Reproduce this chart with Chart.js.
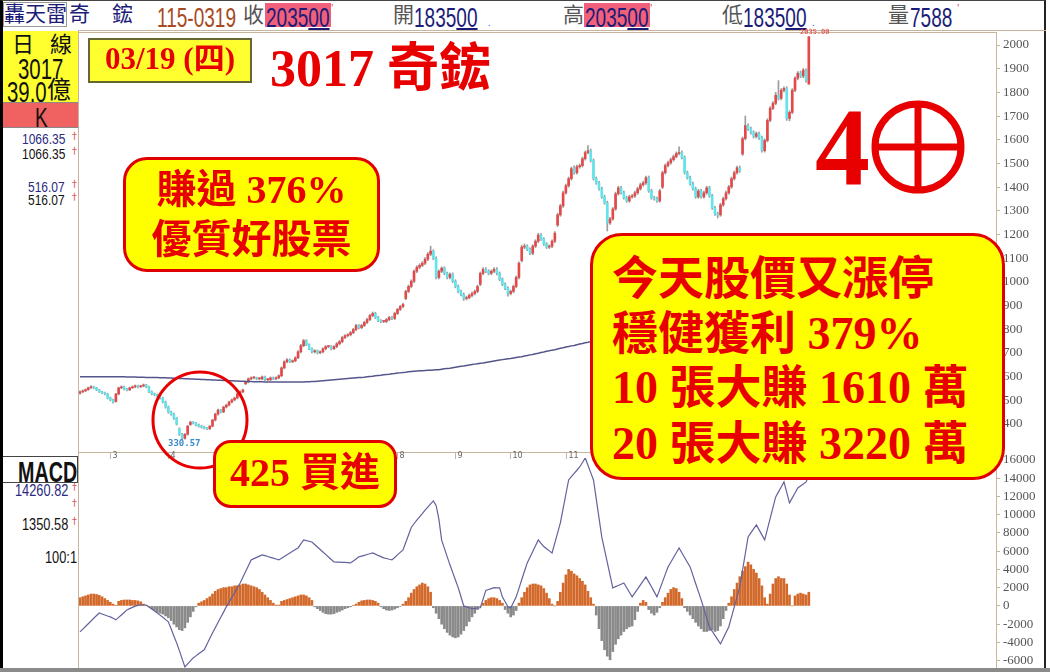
<!DOCTYPE html>
<html>
<head>
<meta charset="utf-8">
<script src="https://cdn.jsdelivr.net/npm/chart.js@4.4.1/dist/chart.umd.min.js"></script>
<style>
body{margin:0;background:#fff;width:1050px;height:672px;position:relative;overflow:hidden;font-family:"Noto Sans CJK TC",sans-serif}
.a{position:absolute;white-space:nowrap;line-height:1}
.n{display:inline-block;font-family:"Liberation Sans";transform:scaleX(.68);transform-origin:left center}
.m{display:inline-block;font-family:"Liberation Sans";transform:scaleX(.8);transform-origin:left center}
.u{text-decoration:underline;text-decoration-thickness:2px;text-underline-offset:1px}
.dg{position:absolute;color:#e03030;font-size:9px;line-height:1}
.box{position:absolute;background:#ffff00;border:3px solid #e00000;box-sizing:border-box}
.big{position:absolute;white-space:nowrap;line-height:1;color:#e80000;font-weight:700;font-family:"Liberation Serif","Noto Sans CJK TC",serif}
canvas{position:absolute}
</style>
</head>
<body>
<!-- cuadro exterior -->
<div style="position:absolute;left:0;top:0;width:1046px;height:668px;border-left:3px solid #000;border-right:2px solid #222;border-top:1px solid #444;box-sizing:border-box"></div>
<div style="position:absolute;left:0;top:668px;width:1050px;height:4px;background:#8a8a8a"></div>
<div style="position:absolute;left:78px;top:30px;width:968px;height:1px;background:#c8b49c"></div>
<div style="position:absolute;left:78px;top:30px;width:1px;height:638px;background:#c8b49c"></div>

<!-- cabecera -->
<div style="position:absolute;left:3px;top:2px;width:64px;height:25px;border:1px solid #999;box-sizing:border-box"></div>
<div class="a" style="left:4px;top:2px;font-size:21px;color:#1c1c78">轟天雷</div>
<div class="a" style="left:69px;top:2px;font-size:21px;color:#1c1c78">奇</div>
<div class="a" style="left:112px;top:2px;font-size:21px;color:#1c1c78">鋐</div>
<div class="a" style="left:157px;top:1px;font-size:28px;color:#a8491f"><span class="n">115-0319</span></div>
<div class="a" style="left:243px;top:3px;font-size:21px;color:#555">收</div>
<div style="position:absolute;left:265px;top:3px;width:66px;height:24px;background:#f0607a"></div>
<div class="a" style="left:266px;top:1px;font-size:28px;color:#1c1c78"><span class="n">2035<span class="u">00</span></span></div>
<div class="dg" style="left:331px;top:3px">'</div>
<div class="a" style="left:393px;top:3px;font-size:21px;color:#555">開</div>
<div class="a" style="left:414px;top:1px;font-size:28px;color:#1c1c78"><span class="n">1835<span class="u">00</span></span></div>
<div class="dg" style="left:488px;top:18px;color:#3070e0">.</div>
<div class="a" style="left:563px;top:3px;font-size:21px;color:#555">高</div>
<div style="position:absolute;left:584px;top:3px;width:66px;height:24px;background:#f0607a"></div>
<div class="a" style="left:585px;top:1px;font-size:28px;color:#1c1c78"><span class="n">2035<span class="u">00</span></span></div>
<div class="dg" style="left:650px;top:3px">'</div>
<div class="a" style="left:722px;top:3px;font-size:21px;color:#555">低</div>
<div class="a" style="left:743px;top:1px;font-size:28px;color:#1c1c78"><span class="n">1835<span class="u">00</span></span></div>
<div class="dg" style="left:812px;top:18px;color:#3070e0">.</div>
<div class="a" style="left:888px;top:3px;font-size:21px;color:#555">量</div>
<div class="a" style="left:910px;top:1px;font-size:28px;color:#1c1c78"><span class="n">7588</span></div>
<div class="dg" style="left:957px;top:3px">'</div>

<!-- panel izquierdo -->
<div style="position:absolute;left:3px;top:31px;width:75px;height:71px;background:#ffff30"></div>
<div class="a" style="left:12px;top:31px;font-size:22px;color:#111">日</div>
<div class="a" style="left:50px;top:31px;font-size:22px;color:#111">線</div>
<div class="a" style="left:18px;top:51px;font-size:30px;color:#111"><span class="n">3017</span></div>
<div class="a" style="left:7px;top:74px;font-size:30px;color:#111"><span class="n">39.0</span></div>
<div class="a" style="left:47px;top:76px;font-size:24px;color:#111">億</div>
<div style="position:absolute;left:3px;top:102px;width:75px;height:26px;background:#f06262;border-top:1px solid #888;border-bottom:1px solid #888;box-sizing:border-box"></div>
<div class="a" style="left:35px;top:101px;font-size:28px;color:#111"><span class="n">K</span></div>
<div class="a" style="left:22px;top:130px;font-size:15px;color:#2a2a80"><span class="m">1066.35</span></div>
<div class="dg" style="left:70px;top:131px">†</div>
<div class="a" style="left:22px;top:145px;font-size:15px;color:#111"><span class="m">1066.35</span></div>
<div class="dg" style="left:70px;top:146px">†</div>
<div class="a" style="left:28px;top:178px;font-size:15px;color:#2a2a80"><span class="m">516.07</span></div>
<div class="dg" style="left:70px;top:179px">†</div>
<div class="a" style="left:28px;top:191px;font-size:15px;color:#111"><span class="m">516.07</span></div>
<div class="dg" style="left:70px;top:192px">†</div>

<div style="position:absolute;left:3px;top:456px;width:75px;height:27px;border-top:1px solid #444;border-bottom:1px solid #444;border-right:1px solid #444;box-sizing:border-box"></div>
<div class="a" style="left:18px;top:455px;font-size:29px;color:#111;font-weight:700"><span class="n">MACD</span></div>
<div class="a" style="left:15px;top:481px;font-size:16px;color:#2a2a80"><span class="m">14260.82</span></div>
<div class="dg" style="left:70px;top:482px">†</div>
<div class="dg" style="left:70px;top:498px">†</div>
<div class="a" style="left:22px;top:515px;font-size:16px;color:#111"><span class="m">1350.58</span></div>
<div class="dg" style="left:70px;top:516px">†</div>
<div class="a" style="left:45px;top:548px;font-size:16px;color:#111"><span class="m">100:1</span></div>

<canvas id="precio" width="970" height="428" style="left:78px;top:32px"></canvas>
<canvas id="macd" width="970" height="218" style="left:78px;top:450px"></canvas>

<div class="a" style="left:800px;top:29px;font-size:7px;color:#e04040;font-family:'DejaVu Sans Mono'">2035.00</div>
<div class="a" style="left:168px;top:439px;font-size:9px;color:#3a8ac8;font-weight:700;font-family:'DejaVu Sans Mono'">330.57</div>

<!-- rótulos -->
<div style="position:absolute;left:88px;top:38px;width:164px;height:45px;background:#ffff30;border:2px solid #666633;box-sizing:border-box"></div>
<div class="big" style="left:88px;width:164px;text-align:center;top:43px;font-size:31px">03/19 (四)</div>
<div class="big" style="left:270px;top:43px;font-size:52px">3017 奇鋐</div>
<div class="big" style="left:815px;top:92px;font-size:110px">4</div>
<svg style="position:absolute;left:868px;top:99px" width="100" height="96">
  <circle cx="50" cy="48" r="43" stroke="#e80000" stroke-width="7" fill="none"/>
  <line x1="50" y1="5" x2="50" y2="91" stroke="#e80000" stroke-width="7"/>
  <line x1="7" y1="48" x2="93" y2="48" stroke="#e80000" stroke-width="7"/>
</svg>

<div class="box" style="left:123px;top:157px;width:257px;height:115px;border-radius:24px"></div>
<div class="big" style="left:123px;width:257px;text-align:center;top:170px;font-size:40px">賺過 376%</div>
<div class="big" style="left:123px;width:257px;text-align:center;top:220px;font-size:40px">優質好股票</div>

<svg style="position:absolute;left:150px;top:370px" width="104" height="102">
  <ellipse cx="50" cy="50" rx="47" ry="48" stroke="#e80000" stroke-width="3" fill="none"/>
</svg>

<div class="box" style="left:213px;top:440px;width:184px;height:68px;border-radius:18px"></div>
<div class="big" style="left:213px;width:184px;text-align:center;top:453px;font-size:40px">425 買進</div>

<div class="box" style="left:590px;top:233px;width:415px;height:247px;border-radius:32px"></div>
<div class="big" style="left:612px;top:256px;font-size:46px">今天股價又漲停</div>
<div class="big" style="left:612px;top:311px;font-size:46px">穩健獲利 379%</div>
<div class="big" style="left:612px;top:365px;font-size:46px">10 張大賺 1610 萬</div>
<div class="big" style="left:612px;top:421px;font-size:46px">20 張大賺 3220 萬</div>

<script>
// K線日資料 (開、高、低、收)
const opens = [530,536,540,545,553,557,552,544,536,532,
527,510,502,495,527,553,557,548,544,553,
557,561,557,561,565,557,536,527,523,519,
510,493,472,451,442,425,380,357,340,357,
398,408,404,396,391,387,383,380,391,417,
442,459,451,472,480,493,502,510,527,536,
570,578,591,595,595,591,591,599,587,587,
595,591,595,604,637,663,671,663,667,680,
705,731,752,735,718,705,709,701,705,718,
727,727,718,727,739,748,765,773,777,786,
799,816,807,816,829,841,858,867,850,837,
833,833,841,850,846,867,884,896,930,960,
981,1003,1045,1062,1070,1079,1096,1117,1130,1100,
1019,1045,1058,1036,1019,1032,1003,981,960,947,
930,934,943,951,960,990,1036,1053,1045,1036,
1045,1053,1036,1011,990,973,951,960,981,1019,
1090,1147,1151,1138,1121,1151,1172,1198,1181,1160,
1147,1151,1172,1240,1283,1321,1376,1406,1436,1478,
1461,1486,1491,1520,1546,1554,1512,1436,1418,1393,
1359,1334,1249,1266,1308,1372,1397,1376,1355,1342,
1359,1363,1376,1393,1410,1418,1440,1384,1355,1351,
1342,1400,1461,1491,1503,1516,1529,1542,1546,1525,
1461,1440,1414,1393,1359,1384,1359,1376,1397,1363,
1312,1287,1283,1325,1351,1376,1401,1436,1461,1482,
1540,1605,1660,1647,1631,1614,1626,1609,1554,1597,
1682,1733,1754,1788,1775,1809,1817,1690,1716,1809,
1860,1881,1869,1894,1835];

const highs = [540,544,549,556,562,560,555,547,539,535,
530,514,505,530,556,561,560,551,556,561,
565,564,564,569,568,560,540,531,527,522,
513,497,476,455,446,428,384,361,360,395,
412,411,407,400,395,391,386,394,420,446,
463,462,475,484,497,506,514,531,540,548,
582,595,599,600,598,596,603,602,592,599,
599,599,608,641,667,676,675,671,684,710,
736,757,756,739,722,714,713,709,722,731,
732,731,731,744,753,770,778,782,791,804,
821,820,821,834,846,863,873,872,855,841,
838,846,855,855,872,889,901,911,965,987,
1009,1051,1068,1077,1086,1103,1124,1151,1136,1106,
1051,1064,1064,1042,1038,1038,1009,987,966,953,
940,949,957,966,987,1042,1060,1060,1051,1051,
1060,1060,1042,1017,996,979,966,987,1025,1085,
1155,1160,1157,1144,1157,1178,1205,1204,1187,1166,
1157,1178,1212,1290,1328,1383,1413,1443,1485,1490,
1493,1498,1527,1553,1576,1561,1519,1443,1425,1400,
1366,1341,1273,1314,1379,1404,1404,1383,1362,1366,
1370,1383,1400,1417,1425,1447,1447,1391,1362,1358,
1391,1468,1498,1510,1523,1536,1549,1570,1553,1532,
1468,1447,1421,1400,1391,1391,1383,1404,1404,1370,
1319,1294,1332,1358,1383,1408,1443,1468,1489,1489,
1612,1700,1667,1654,1638,1633,1633,1616,1604,1689,
1740,1761,1800,1850,1816,1824,1824,1723,1816,1867,
1888,1890,1901,1900,2035];

const lows = [526,532,537,542,550,549,541,533,528,523,
506,498,488,492,523,549,544,540,541,550,
553,553,554,557,553,532,523,519,515,505,
489,467,446,437,420,396,352,331,336,353,
394,400,392,387,383,379,376,377,388,413,
438,447,448,468,476,489,498,506,523,532,
566,574,587,590,587,586,587,583,582,583,
587,587,591,600,633,658,659,659,663,676,
700,726,731,714,700,700,696,697,700,713,
722,713,714,722,734,743,760,768,772,781,
794,802,802,811,824,836,853,845,832,828,
828,828,836,841,841,862,879,891,925,955,
975,997,1039,1056,1064,1073,1090,1111,1094,1013,
1013,1039,1030,1013,1013,997,975,954,941,922,
924,928,937,945,954,984,1030,1039,1030,1030,
1039,1030,1005,984,967,940,945,954,975,1013,
1084,1140,1132,1115,1115,1145,1166,1175,1154,1141,
1141,1145,1166,1234,1277,1315,1370,1400,1430,1455,
1455,1480,1485,1514,1540,1506,1430,1412,1387,1353,
1328,1215,1243,1260,1302,1366,1370,1349,1336,1336,
1353,1357,1370,1387,1404,1412,1378,1349,1345,1336,
1336,1394,1455,1485,1497,1510,1523,1536,1519,1455,
1434,1408,1387,1353,1353,1353,1353,1370,1357,1306,
1281,1270,1277,1319,1345,1370,1395,1430,1455,1463,
1534,1599,1640,1624,1607,1607,1602,1548,1548,1591,
1676,1727,1748,1768,1768,1802,1682,1680,1710,1803,
1853,1862,1862,1843,1835];

const closes = [536,540,545,553,557,552,544,536,532,527,
510,502,493,527,553,557,548,544,553,557,
561,557,561,565,557,536,527,523,519,510,
493,472,451,442,425,400,357,340,357,391,
408,404,396,391,387,383,380,391,417,442,
459,451,472,480,493,502,510,527,536,544,
578,591,595,595,591,591,599,587,587,595,
591,595,604,637,663,671,663,667,680,705,
731,752,735,718,705,709,701,705,718,727,
727,718,727,739,748,765,773,777,786,799,
816,807,816,829,841,858,867,850,837,833,
833,841,850,846,867,884,896,905,960,981,
1003,1045,1062,1070,1079,1096,1117,1130,1100,1019,
1045,1058,1036,1019,1032,1003,981,960,947,930,
934,943,951,960,981,1036,1053,1045,1036,1045,
1053,1036,1011,990,973,951,960,981,1019,1079,
1147,1151,1138,1121,1151,1172,1198,1181,1160,1147,
1151,1172,1206,1283,1321,1376,1406,1436,1478,1461,
1486,1491,1520,1546,1554,1512,1436,1418,1393,1359,
1334,1249,1266,1308,1372,1397,1376,1355,1342,1359,
1363,1376,1393,1410,1418,1440,1384,1355,1351,1342,
1384,1461,1491,1503,1516,1529,1542,1546,1525,1461,
1440,1414,1393,1359,1384,1359,1376,1397,1363,1312,
1287,1283,1325,1351,1376,1401,1436,1461,1482,1469,
1605,1660,1647,1631,1614,1626,1609,1554,1597,1682,
1733,1754,1788,1775,1809,1817,1690,1716,1809,1860,
1881,1869,1894,1850,2035];

// 長期均線
const maLong = [600,600,600,600,600,600,600,600,600,600,
600,600,600,600,600,600,600,599,599,599,
599,598,598,598,597,597,597,596,596,595,
595,595,594,594,593,593,592,592,591,591,
590,590,589,589,588,588,587,587,586,586,
585,585,584,584,583,583,582,582,581,581,
580,580,580,579,579,579,579,578,578,578,
578,578,578,578,578,578,578,578,578,578,
578,578,579,579,580,580,581,582,583,584,
585,586,587,588,589,590,591,592,593,594,
595,596,597,598,600,601,602,604,605,606,
608,609,610,612,613,615,616,618,619,621,
622,623,624,625,625,626,627,627,628,629,
629,631,633,635,636,638,640,642,644,645,
647,649,651,653,655,657,658,660,662,664,
666,668,670,672,674,676,677,679,681,683,
684,687,689,692,694,697,699,702,704,707,
709,712,714,717,720,722,725,727,730,732,
735,738,740,743,745,748,750,753,755,758,
760,763,765,768,771,773,776,779,781,784,
787,789,792,795,797,800,803,806,808,811,
814,817,819,822,825,828,830,833,836,839,
842,844,847,850,853,856,859,862,864,867,
870,873,876,879,882,885,888,891,894,897,
900,903,906,909,912,915,918,921,924,927,
930,933,936,939,942,945,948,951,954,957,
960,963,966,969,972];

// MACD: DIF 線與柱狀體
const dif = [-2850,-2550,-2250,-1950,-1650,-1350,-1050,-770,-880,-990,
-1100,-1200,-1360,-1530,-1260,-990,-720,-440,-300,-160,
-20,50,100,100,100,-120,-340,-560,-770,-1010,
-1250,-1500,-1750,-2500,-3300,-4050,-4900,-5800,-6680,-6350,
-6020,-5700,-5470,-5250,-5020,-4800,-4190,-3570,-2960,-2390,
-1820,-1250,-680,-100,420,940,1460,1980,2500,3140,
3770,4410,5040,5180,5320,5450,5590,5500,5410,5320,
5230,5140,5040,5230,5420,5610,5800,5980,6170,6350,
6790,7230,7150,7080,7000,6730,6450,6180,5910,5640,
5360,5090,4820,4800,4790,4770,4760,4740,4710,4930,
5150,5370,5460,5540,5630,5710,5800,5670,5530,5400,
5260,5190,5110,5040,5310,5590,5860,6130,6950,7770,
8590,9000,9400,9750,10100,10500,10830,11170,11500,11000,
9500,7200,6300,5400,4500,3670,2830,2000,1000,0,
-100,-200,-300,-270,-230,-200,750,1700,1800,1900,
2000,1985,1970,990,450,-100,-220,380,990,1920,
2860,3790,4710,5340,5970,6600,7230,6860,6500,6270,
6030,5800,6900,8000,9090,10660,12230,13800,14150,14510,
14860,15220,15710,16200,15400,14600,13800,11720,9640,7560,
6160,4760,3360,1970,2110,2240,2380,2520,2010,1500,
990,1430,1870,2300,2740,3180,2630,2090,1540,990,
1810,2630,3450,4270,4790,5310,5830,6350,5830,5310,
4790,4270,3370,2460,1560,660,-330,-1320,-2300,-2770,
-3230,-3700,-4160,-3540,-2920,-2300,-1200,-110,990,2080,
3910,5740,7560,8000,8440,8870,8330,7780,7230,8410,
9580,10760,11940,12490,13030,13580,12430,11280,11830,12370,
12920,13140,13360,13580,14260];

const osc = [900,1000,1100,1200,1300,1300,1250,1150,1000,800,
600,400,200,50,500,600,650,650,650,600,
600,550,450,200,50,-100,-300,-500,-700,-800,
-900,-1100,-1300,-1600,-2000,-2300,-2600,-2700,-2400,-1800,
-1200,-600,-100,300,450,600,800,1000,1300,1600,
1800,1900,2000,2000,2100,2100,2200,2200,2300,2400,
2400,2300,2200,2100,2000,1800,1500,1200,900,600,
300,100,100,500,600,700,800,900,1000,1100,
1200,1200,1100,900,600,-100,-300,-500,-700,-850,
-900,-900,-850,-700,-600,-450,-300,-200,-100,50,
200,400,550,600,650,650,600,500,300,-100,
-300,-450,-500,-450,-350,-200,-50,200,500,900,
1400,1800,2100,2300,2500,2400,2100,1500,-200,-800,
-1400,-2000,-2500,-2900,-3200,-3400,-3500,-3400,-3100,-2700,
-2200,-1700,-1200,-800,-400,-100,300,600,800,900,
900,800,600,300,-400,-800,-1200,-1000,-500,300,
900,1500,2000,2300,2400,2400,2300,2200,1900,1400,
800,200,0,500,1500,2500,3400,4000,3800,3500,
3300,3000,2700,2300,1600,900,200,-1000,-2500,-3800,
-4800,-5500,-5900,-5000,-4200,-3600,-3200,-2800,-2500,-2300,
-2200,-1500,-600,300,600,400,-400,-800,-1000,-700,
-200,400,900,1400,1800,2000,1900,1500,800,-200,
-600,-1000,-1400,-1800,-2200,-2500,-2800,-2800,-2700,-2600,
-2800,-2700,-2200,-1400,-500,300,1000,1800,2500,3200,
3800,4300,4800,4500,4000,3600,3000,2200,900,200,
1300,2400,3000,3200,3000,3000,2400,1200,0,1100,
1300,1400,1300,1200,1500];

// 座標刻度
const priceTicks = [400,500,600,700,800,900,1000,1100,1200,1300,1400,1500,1600,1700,1800,1900,2000];
const macdTicks = [-6000,-4000,-2000,0,2000,4000,6000,8000,10000,12000,14000,16000];
const monthStarts = [12,33,54,75,95,116,137,157,177,198,218,239,257];
const monthNames = ['3','4','5','6','7','8','9','10','11','12','1','2','3'];

const TAN = '#c8b49c';

// 框線與月份刻度
const frame = {
    id: 'frame',
    afterDraw(chart, args, opts) {
        const { ctx, chartArea: a } = chart;
        ctx.save();
        ctx.strokeStyle = TAN;
        ctx.lineWidth = 1;
        ctx.beginPath();
        ctx.moveTo(a.left + 0.5, a.top);
        ctx.lineTo(a.left + 0.5, a.bottom);
        if (opts.months) {
            ctx.moveTo(a.left, a.top + 0.5);
            ctx.lineTo(a.right, a.top + 0.5);
            ctx.moveTo(a.left, a.bottom + 0.5);
            ctx.lineTo(a.right, a.bottom + 0.5);
        }
        ctx.stroke();
        if (opts.months) {
            const sx = chart.scales.x;
            ctx.fillStyle = '#666';
            ctx.font = '8px "DejaVu Sans"';
            ctx.textBaseline = 'bottom';
            monthStarts.forEach((m, k) => {
                const x = Math.round(sx.getPixelForValue(m)) - 2.5;
                ctx.beginPath();
                ctx.moveTo(x, a.bottom);
                ctx.lineTo(x, a.bottom + 7);
                ctx.stroke();
                ctx.fillText(monthNames[k], x + 2, a.bottom + 8);
            });
        }
        ctx.restore();
    }
};

const ejeX = { type: 'linear', min: -0.72, max: 331.8, offset: false, bounds: 'ticks', display: false };

function ejeY(min, max, ticks) {
    return {
        position: 'right',
        min: min,
        max: max,
        afterBuildTicks: s => { s.ticks = ticks.map(v => ({ value: v })); },
        afterFit: s => { s.width = 52; s.paddingTop = 0; s.paddingBottom = 0; },
        ticks: {
            color: '#555',
            font: { family: 'Liberation Serif', size: 13 },
            padding: 3,
            autoSkip: false,
            callback: v => String(v)
        },
        grid: { drawOnChartArea: false, color: TAN, tickLength: 4 },
        border: { color: TAN }
    };
}

const coloresK = closes.map((c, i) => c >= opens[i] ? '#e24a4a' : '#62e4ec');

new Chart(document.getElementById('precio'), {
    type: 'bar',
    data: {
        datasets: [
            {
                type: 'line',
                data: maLong.map((v, i) => ({ x: i, y: v })),
                borderColor: '#55558c',
                borderWidth: 1.5,
                pointRadius: 0,
                order: 0
            },
            {
                data: opens.map((o, i) => ({ x: i, y: [o, closes[i]] })),
                backgroundColor: coloresK,
                barThickness: 2,
                minBarLength: 1,
                order: 1
            },
            {
                data: lows.map((l, i) => ({ x: i, y: [l, highs[i]] })),
                backgroundColor: '#9c9c9c',
                barThickness: 1,
                order: 2
            }
        ]
    },
    options: {
        animation: false,
        responsive: false,
        layout: { padding: { bottom: 8 } },
        datasets: { bar: { grouped: false } },
        plugins: { legend: { display: false }, tooltip: { enabled: false }, frame: { months: true } },
        scales: { x: ejeX, y: ejeY(282, 2055, priceTicks) }
    },
    plugins: [frame]
});

new Chart(document.getElementById('macd'), {
    type: 'bar',
    data: {
        datasets: [
            {
                type: 'line',
                data: dif.map((v, i) => ({ x: i, y: v })),
                borderColor: '#62629e',
                borderWidth: 1.2,
                pointRadius: 0,
                order: 0
            },
            {
                data: osc.map((v, i) => ({ x: i, y: v })),
                backgroundColor: osc.map(v => v >= 0 ? '#d2692a' : '#8a8a8a'),
                barThickness: 2,
                order: 1
            }
        ]
    },
    options: {
        animation: false,
        responsive: false,
        layout: { padding: { top: 8 } },
        datasets: { bar: { grouped: false } },
        plugins: { legend: { display: false }, tooltip: { enabled: false }, frame: { months: false } },
        scales: { x: ejeX, y: ejeY(-6800, 16200, macdTicks) }
    },
    plugins: [frame]
});
</script>
</body>
</html>
